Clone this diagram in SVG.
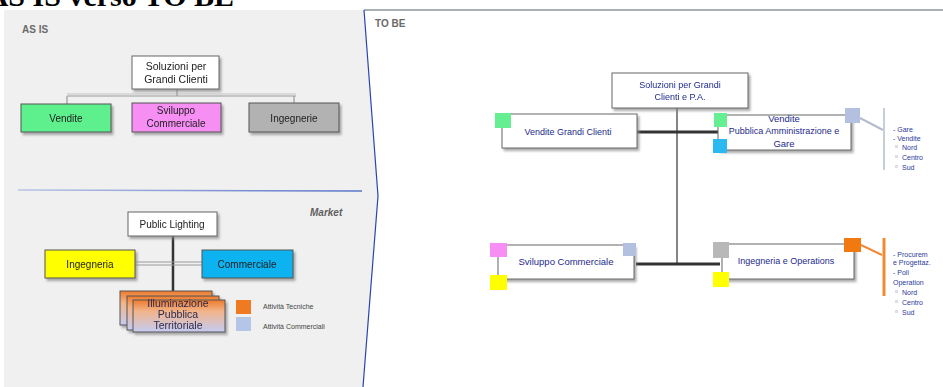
<svg xmlns="http://www.w3.org/2000/svg" width="943" height="387" viewBox="0 0 943 387">
<defs>
<style>
text{font-family:"Liberation Sans",Arial,sans-serif}
.t{font-size:10px;fill:#222;text-anchor:middle}
.b{font-size:9px;fill:#1e2a8c;text-anchor:middle}
.l{font-size:7px;fill:#2a3a9a}
.lg{font-size:7px;fill:#444}
.hdr{font-size:10px;font-weight:bold;fill:#6a6a6a}
.box{stroke:#555;stroke-width:1}
.wb{fill:#fff;stroke:#666;stroke-width:1}
.conn{stroke:#9a9a9a;stroke-width:1.2;fill:none}
.thick{stroke:#333;stroke-width:3;fill:none}
.thin{stroke:#444;stroke-width:1.3;fill:none}
</style>
<filter id="sh" x="-10%" y="-10%" width="130%" height="140%">
<feDropShadow dx="2" dy="2.5" stdDeviation="1" flood-color="#888" flood-opacity="0.7"/>
</filter>
<linearGradient id="ill" x1="0" y1="0" x2="0" y2="1">
<stop offset="0" stop-color="#ee7a2c"/>
<stop offset="0.35" stop-color="#f2b48a"/>
<stop offset="1" stop-color="#c4ccf2"/>
</linearGradient>
<linearGradient id="sep" x1="0" y1="0" x2="1" y2="0">
<stop offset="0" stop-color="#b8c4e4"/>
<stop offset="1" stop-color="#5a74cc"/>
</linearGradient>
</defs>

<!-- title (clipped at top) -->
<text x="234" y="6" text-anchor="end" style="font-family:'Liberation Serif','Times New Roman',serif;font-weight:bold;font-size:30px;fill:#000">AS IS verso TO BE</text>

<!-- panels -->
<path d="M4,10 H364 L378,196 L363,387 H4 Z" fill="#f0f0f0"/>
<line x1="364" y1="10" x2="943" y2="10" stroke="#556070" stroke-width="1"/>
<path d="M364,10 L378,196 L363,387" fill="none" stroke="#2c44b0" stroke-width="1.2"/>
<line x1="18" y1="190" x2="362" y2="191" stroke="url(#sep)" stroke-width="1.5"/>

<text class="hdr" x="22" y="33">AS IS</text>
<text class="hdr" x="375" y="27">TO BE</text>
<text x="310" y="216" style="font-size:10px;font-weight:bold;font-style:italic;fill:#606060">Market</text>

<!-- connectors -->
<g id="connectors">
<path class="conn" d="M177,89 V96 M67,96 H296 M67,96 V104 M294,96 V104"/>
<path class="conn" d="M67,94 H296" stroke-opacity="0.5"/>
<path d="M173,236 V292" stroke="#333" stroke-width="2.5" fill="none"/>
<path class="conn" d="M135,262 H202 M135,265 H202" stroke="#888"/>
<path class="thin" d="M677,108 V265"/>
<path class="thick" d="M637,132 H718"/>
<path class="thick" d="M636,264 H720"/>
<path d="M860,118 L883,130" stroke="#b4bccc" stroke-width="2" fill="none"/>
<path d="M884,108 V170" stroke="#b4bccc" stroke-width="1.5" fill="none"/>
<path d="M861,245 L882,255" stroke="#f08a3a" stroke-width="2" fill="none"/>
<path d="M884,238 V296" stroke="#f08a30" stroke-width="3" fill="none"/>
</g>

<!-- AS IS top org -->
<g id="asis-root" filter="url(#sh)">
<rect class="wb" x="132" y="56" width="87" height="33"/>
<text class="t" x="176" y="70" style="font-size:10.5px">Soluzioni per</text>
<text class="t" x="176" y="83" style="font-size:10.5px">Grandi Clienti</text>
</g>
<g id="asis-vendite" filter="url(#sh)">
<rect class="box" x="21" y="104" width="90" height="28" fill="#5ef08e"/>
<text class="t" x="66" y="122">Vendite</text>
</g>
<g id="asis-sviluppo" filter="url(#sh)">
<rect class="box" x="132" y="103" width="89" height="29" fill="#f68ef4"/>
<text class="t" x="176" y="114">Sviluppo</text>
<text class="t" x="176" y="127">Commerciale</text>
</g>
<g id="asis-ingegnerie" filter="url(#sh)">
<rect class="box" x="249" y="103" width="90" height="29" fill="#b2b2b2"/>
<text class="t" x="294" y="122">Ingegnerie</text>
</g>

<!-- AS IS bottom: Market -->
<g id="public-lighting" filter="url(#sh)">
<rect class="wb" x="128" y="212" width="89" height="24"/>
<text class="t" x="172" y="228">Public Lighting</text>
</g>
<g id="ingegneria" filter="url(#sh)">
<rect class="box" x="45" y="250" width="90" height="28" fill="#ffff00"/>
<text class="t" x="90" y="268">Ingegneria</text>
</g>
<g id="commerciale" filter="url(#sh)">
<rect class="box" x="202" y="250" width="91" height="28" fill="#0ab2f0"/>
<text class="t" x="247" y="268">Commerciale</text>
</g>
<g id="illuminazione" filter="url(#sh)">
<rect class="box" x="120" y="291" width="92" height="34" fill="url(#ill)"/>
<rect class="box" x="127" y="296" width="92" height="34" fill="url(#ill)"/>
<rect class="box" x="133" y="300" width="92" height="32" fill="url(#ill)"/>
<text class="t" x="178" y="307" style="font-size:10.5px;fill:#2a2a50">Illuminazione</text>
<text class="t" x="178" y="318" style="font-size:10.5px;fill:#2a2a50">Pubblica</text>
<text class="t" x="178" y="329" style="font-size:10.5px;fill:#2a2a50">Territoriale</text>
</g>
<g id="legend">
<rect x="236" y="300" width="15" height="14" fill="#f07a22"/>
<rect x="236" y="317" width="15" height="14" fill="#b4c6e8"/>
<text class="lg" x="263" y="309">Attività Tecniche</text>
<text class="lg" x="263" y="329">Attività Commerciali</text>
</g>

<!-- TO BE -->
<g id="tobe-root" filter="url(#sh)">
<rect class="wb" x="612" y="73" width="136" height="35"/>
<text class="b" x="680" y="88">Soluzioni per Grandi</text>
<text class="b" x="680" y="100">Clienti e P.A.</text>
</g>
<g id="vendite-gc">
<rect class="wb" x="502" y="114" width="135" height="34" filter="url(#sh)"/>
<rect x="495" y="113" width="16" height="15" fill="#66ee92"/>
<text class="b" x="568" y="135">Vendite Grandi Clienti</text>
</g>
<g id="vendite-pa">
<rect class="wb" x="718" y="115" width="133" height="35" filter="url(#sh)"/>
<rect x="714" y="113" width="13" height="14" fill="#66ee92"/>
<rect x="713" y="139" width="14" height="14" fill="#2cb8f0"/>
<rect x="845" y="108" width="15" height="15" fill="#b4c0e0"/>
<text class="b" x="784" y="122" style="font-size:9.5px">Vendite</text>
<text class="b" x="784" y="134">Pubblica Amministrazione e</text>
<text class="b" x="784" y="147" style="font-size:9.5px">Gare</text>
</g>
<g id="vendite-pa-list">
<text class="l" x="893" y="132">- Gare</text>
<text class="l" x="893" y="141">- Vendite</text>
<rect x="895" y="145" width="3" height="3" fill="#dde"/>
<text class="l" x="902" y="150">Nord</text>
<rect x="895" y="155" width="3" height="3" fill="#dde"/>
<text class="l" x="902" y="160">Centro</text>
<rect x="895" y="165" width="3" height="3" fill="#dde"/>
<text class="l" x="902" y="170">Sud</text>
</g>
<g id="sviluppo-comm">
<rect class="wb" x="498" y="245" width="136" height="34" filter="url(#sh)"/>
<rect x="490" y="243" width="17" height="14" fill="#f68ef4"/>
<rect x="623" y="243" width="13" height="13" fill="#b4c0e0"/>
<rect x="490" y="275" width="17" height="15" fill="#ffff00"/>
<text class="b" x="566" y="265" style="font-size:9.5px">Sviluppo Commerciale</text>
</g>
<g id="ingegneria-op">
<rect class="wb" x="722" y="244" width="132" height="35" filter="url(#sh)"/>
<rect x="713" y="242" width="16" height="16" fill="#b8b8b8"/>
<rect x="713" y="272" width="16" height="15" fill="#ffff00"/>
<rect x="844" y="238" width="17" height="14" fill="#f07a10"/>
<text class="b" x="786" y="264">Ingegneria e Operations</text>
</g>
<g id="ingegneria-op-list">
<text class="l" x="893" y="257">- Procurem</text>
<text class="l" x="893" y="265">e Progettaz.</text>
<text class="l" x="893" y="275">- Poli</text>
<text class="l" x="893" y="285">Operation</text>
<rect x="895" y="290" width="3" height="3" fill="#dde"/>
<text class="l" x="902" y="295">Nord</text>
<rect x="895" y="300" width="3" height="3" fill="#dde"/>
<text class="l" x="902" y="305">Centro</text>
<rect x="895" y="310" width="3" height="3" fill="#dde"/>
<text class="l" x="902" y="315">Sud</text>
</g>
</svg>
